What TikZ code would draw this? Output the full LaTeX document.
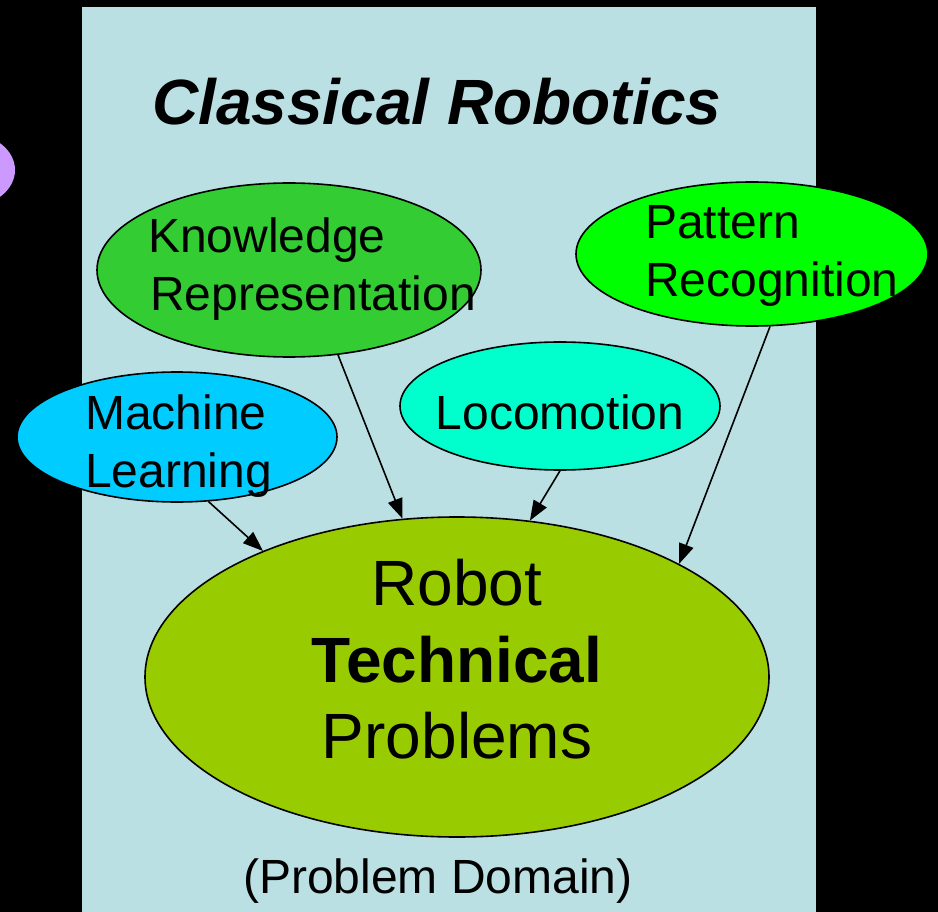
\documentclass[tikz,border=0pt]{standalone}
\usepackage{fontspec}
\setmainfont{Liberation Sans}
\usetikzlibrary{shapes.geometric,arrows.meta}

\definecolor{panel}{HTML}{BBE0E3}
\definecolor{lilac}{HTML}{CC99FF}
\definecolor{kgreen}{HTML}{33CC33}
\definecolor{pgreen}{HTML}{00FF00}
\definecolor{mlblue}{HTML}{00CCFF}
\definecolor{aqua}{HTML}{00FFCC}
\definecolor{olive}{HTML}{99CC00}

\tikzset{
  topic/.style={ellipse, draw=black, line width=1.6pt, inner sep=0pt},
  body/.style={font=\fontsize{48}{52}\selectfont, inner sep=0pt, align=left},
  big/.style={font=\fontsize{64}{64}\selectfont, inner sep=0pt},
  flow/.style={line width=1.6pt, -{Triangle[length=20pt,width=15pt]}},
}

\begin{document}
\begin{tikzpicture}[x=1pt,y=-1pt]
  % canvas and panel
  \fill[black] (0,0) rectangle (938,912);
  \useasboundingbox (0,0) rectangle (938,912);
  \fill[panel] (82,7) rectangle (816,912);

  % partly hidden ellipse at the left edge
  \fill[lilac] (-30,170) ellipse [x radius=45, y radius=36];

  \node[anchor=base west, inner sep=0pt,
        font=\fontsize{64}{64}\selectfont\bfseries\itshape] (title) at (152,125) {Classical Robotics};

  % topic ellipses
  \node[topic, fill=kgreen, minimum width=384, minimum height=174] (kr) at (289,270) {};
  \node[topic, fill=pgreen, minimum width=352, minimum height=144] (pr) at (752,254) {};
  \node[topic, fill=mlblue, minimum width=320, minimum height=130] (ml) at (177,437) {};
  \node[topic, fill=aqua, minimum width=320, minimum height=128] (loco) at (560,406) {};
  \node[topic, fill=olive, minimum width=624, minimum height=320] (rtp) at (457,677) {};

  % labels
  \node[body, anchor=base west] (krt1) at (148,253) {Knowledge};
  \node[body, anchor=base west] (krt2) at (150,311) {Representation};
  \node[body, anchor=base west] (prt1) at (645,239) {Pattern};
  \node[body, anchor=base west] (prt2) at (645,297) {Recognition};
  \node[body, anchor=base west] (mlt1) at (85,429) {Machine};
  \node[body, anchor=base west] (mlt2) at (85,487) {Learning};
  \node[body, anchor=base] (locot) at (560,429) {Locomotion};

  \node[big, anchor=base] (rt1) at (457,605) {Robot};
  \node[big, anchor=base, font=\fontsize{64}{64}\selectfont\bfseries] (rt2) at (457,682) {Technical};
  \node[big, anchor=base] (rt3) at (457,758) {Problems};

  \node[anchor=base, inner sep=0pt, font=\fontsize{48}{48}\selectfont] (domain) at (438,893) {(Problem Domain)};

  % connectors
  \draw[flow] (kr.-60.8) -- (rtp.109.3);
  \draw[flow] (ml.-64.5) -- (rtp.147.1);
  \draw[flow] (loco.-90) -- (rtp.65.8);
  \draw[flow] (pr.-76.7) -- (rtp.27.1);
\end{tikzpicture}
\end{document}
